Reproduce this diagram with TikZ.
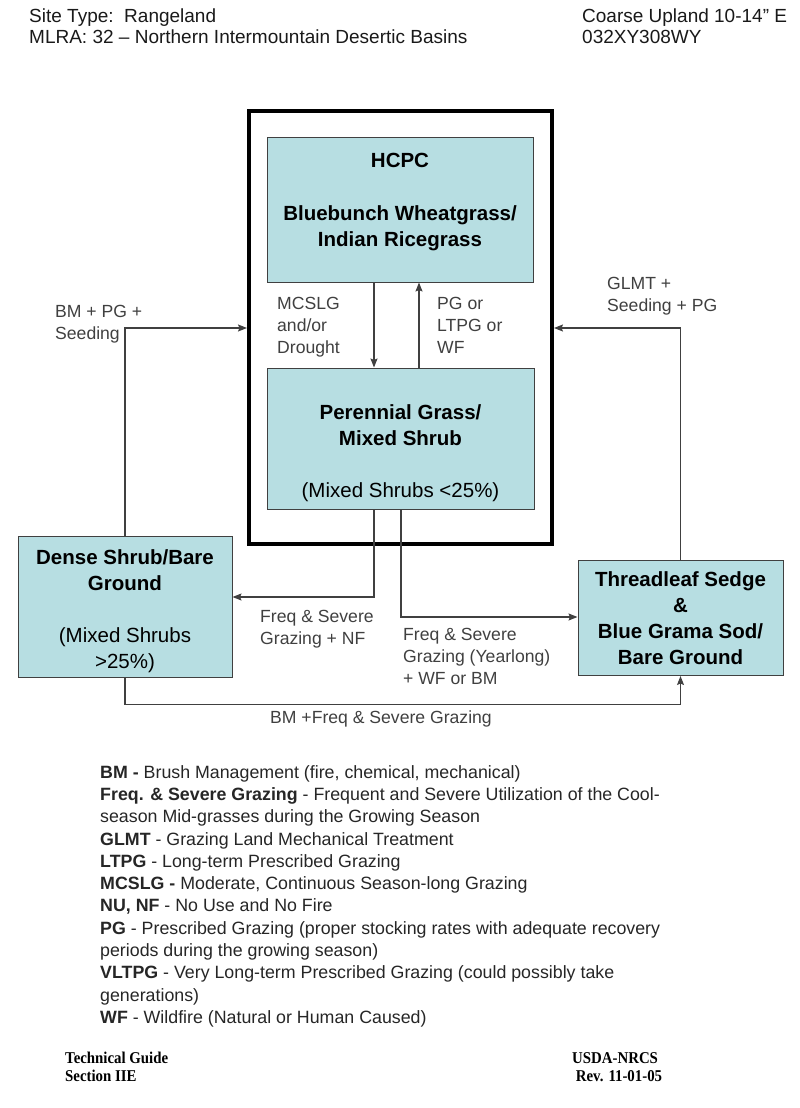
\documentclass[tikz,border=0pt]{standalone}
\usepackage{fontspec}
\setmainfont{Liberation Sans}
\newfontfamily\footfont[FakeStretch=0.9]{Liberation Serif}
\usetikzlibrary{positioning,arrows.meta}
\definecolor{boxfill}{RGB}{183,222,226}
\definecolor{linegray}{RGB}{64,64,64}

\begin{document}
\begin{tikzpicture}[x=1pt, y=-1pt, ->, >={Stealth[length=9pt,width=7pt,inset=1.5pt]},
  statebox/.style={draw=linegray, fill=boxfill, line width=1pt, align=center, inner sep=0pt, font=\fontsize{20.5}{25.8}\selectfont\bfseries},
  lbl/.style={anchor=north west, align=left, inner sep=0pt, text=linegray, font=\fontsize{17.6}{22}\selectfont},
  hdr/.style={anchor=north west, align=left, inner sep=0pt, text=black!90, font=\fontsize{19}{20.5}\selectfont},
  ftr/.style={anchor=north west, align=left, inner sep=0pt, font=\fontsize{16.5}{18}\selectfont\footfont\bfseries},
  link/.style={draw=linegray, line width=1.1pt},
  every edge/.style={link}]

  \useasboundingbox (0,0) rectangle (800,1108);

  % header and footer
  \node[hdr] (site) at (29,9) {Site Type:\ \ Rangeland\\MLRA: 32 – Northern Intermountain Desertic Basins};
  \node[hdr] (code) at (582,9) {Coarse Upland 10-14” E\\032XY308WY};
  \node[ftr] (guide) at (65,1052) {Technical Guide\\Section IIE};
  \node[ftr] (nrcs) at (572,1052) {USDA-NRCS\\\ Rev. 11-01-05};

  % states
  \node[draw, line width=4pt, minimum width=303pt, minimum height=433pt, inner sep=0pt] (outer) at (400.5,327.5) {};
  \node[statebox, minimum width=266pt, minimum height=145pt] (hcpc) at (400,209.5)
    {HCPC\\[27.5pt]Bluebunch Wheatgrass/\\Indian Ricegrass\\[-6pt]\mbox{}};
  \node[statebox, minimum width=267pt, minimum height=141pt] (pgms) at (400.5,438.5)
    {\mbox{}\\[18pt]Perennial Grass/\\Mixed Shrub\\[26.5pt]\mdseries (Mixed Shrubs <25\%)};
  \node[statebox, minimum width=214pt, minimum height=141pt] (dense) at (125,606.5)
    {\mbox{}\\[-1pt]Dense Shrub/Bare\\Ground\\[26.5pt]\mdseries (Mixed Shrubs\\\mdseries >25\%)};
  \node[statebox, minimum width=205pt, minimum height=115pt] (sedge) at (680.5,618)
    {Threadleaf Sedge\\\&\\Blue Grama Sod/\\Bare Ground};

  % transitions
  \path
    (hcpc.south -| 374,0) edge (pgms.north -| 374,0)
    (pgms.north -| 419,0) edge (hcpc.south -| 419,0)
  ;
  \draw[link] (dense.north) |- (outer.west |- 0,328);
  \draw[link] (sedge.north) |- (outer.east |- 0,328);
  \draw[link] (pgms.south -| 374,0) |- (dense.east |- 0,597);
  \draw[link] (pgms.south -| 401,0) |- (sedge.west |- 0,617);
  \draw[link] (dense.south) -- ++(0,27) -| (sedge.south);

  % transition labels
  \node[lbl] (l1) at (55,305) {BM + PG +\\Seeding};
  \node[lbl] (l2) at (277,297) {MCSLG\\and/or\\Drought};
  \node[lbl] (l3) at (437,297) {PG or\\LTPG or\\WF};
  \node[lbl] (l4) at (607,277) {GLMT +\\Seeding + PG};
  \node[lbl] (l5) at (260,610) {Freq \& Severe\\Grazing + NF};
  \node[lbl] (l6) at (403,628) {Freq \& Severe\\Grazing (Yearlong)\\+ WF or BM};
  \node[lbl] (l7) at (270,711) {BM +Freq \& Severe Grazing};

  % legend
  \node[anchor=north west, align=left, inner sep=0pt, text=black!85, font=\fontsize{17.8}{22.3}\selectfont] (legend) at (100,765)
    {\textbf{BM -} Brush Management (fire, chemical, mechanical)\\
     \textbf{Freq. \& Severe Grazing} - Frequent and Severe Utilization of the Cool-\\
     season Mid-grasses during the Growing Season\\
     \textbf{GLMT} - Grazing Land Mechanical Treatment\\
     \textbf{LTPG} - Long-term Prescribed Grazing\\
     \textbf{MCSLG -} Moderate, Continuous Season-long Grazing\\
     \textbf{NU, NF} - No Use and No Fire\\
     \textbf{PG} - Prescribed Grazing (proper stocking rates with adequate recovery\\
     periods during the growing season)\\
     \textbf{VLTPG} - Very Long-term Prescribed Grazing (could possibly take\\
     generations)\\
     \textbf{WF} - Wildfire (Natural or Human Caused)};
\end{tikzpicture}
\end{document}
